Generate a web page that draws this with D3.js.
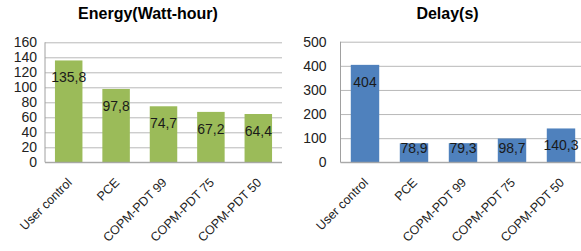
<!DOCTYPE html>
<html><head><meta charset="utf-8">
<script src="https://cdn.jsdelivr.net/npm/d3@7"></script>
<style>
html,body{margin:0;padding:0;background:#fff;}
svg{display:block;font-family:"Liberation Sans",Arial,sans-serif;}
</style></head>
<body>
<svg id="c" width="581" height="251"></svg>
<script>
const categories = ["User control", "PCE", "COPM-PDT 99", "COPM-PDT 75", "COPM-PDT 50"];
const energyValues = [135.8, 97.8, 74.7, 67.2, 64.4];
const energyLabels = ["135,8", "97,8", "74,7", "67,2", "64,4"];
const delayValues = [404, 78.9, 79.3, 98.7, 140.3];
const delayLabels = ["404", "78,9", "79,3", "98,7", "140,3"];
const energyTicks = [0, 20, 40, 60, 80, 100, 120, 140, 160];
const delayTicks = [0, 100, 200, 300, 400, 500];

const svg = d3.select("#c");

function panel(cfg) {
  const g = svg.append("g");
  const x = d3.scaleBand().domain(categories).range([cfg.x0, cfg.x1]).paddingInner(0.42).paddingOuter(0.21);
  const y = d3.scaleLinear().domain([0, cfg.max]).range([cfg.yb, cfg.yt]);
  const w = cfg.x1 - cfg.x0;

  g.append("text").attr("x", cfg.tx).attr("y", 19).attr("text-anchor", "middle")
    .attr("font-size", 16).attr("font-weight", "bold").attr("fill", "#000").text(cfg.title);

  const ya = g.append("g").attr("transform", `translate(${cfg.x0},0)`)
    .call(d3.axisLeft(y).tickValues(cfg.ticks).tickSizeInner(-w).tickSizeOuter(0).tickPadding(cfg.pad).tickFormat(d3.format("d")));
  ya.select(".domain").remove();
  ya.selectAll(".tick line").attr("stroke", "#b8b8b8").attr("stroke-width", 1);
  ya.selectAll(".tick text").attr("font-size", 14).attr("fill", "#222").attr("font-family", "Liberation Sans, Arial, sans-serif");

  g.selectAll("rect.bar").data(cfg.values).join("rect")
    .attr("class", "bar")
    .attr("x", (d, i) => x(categories[i]))
    .attr("width", x.bandwidth())
    .attr("y", d => y(d))
    .attr("height", d => y(0) - y(d))
    .attr("fill", cfg.color);

  g.append("line").attr("x1", cfg.x0).attr("x2", cfg.x0).attr("y1", cfg.yt).attr("y2", cfg.yb)
    .attr("stroke", "#a0a0a0");
  const xa = g.append("g").attr("transform", `translate(0,${cfg.yb})`)
    .call(d3.axisBottom(x).tickSize(0).tickPadding(0));
  xa.select(".domain").attr("stroke", "#a0a0a0").attr("d", `M${cfg.x0},0H${cfg.x1}`);
  xa.selectAll(".tick text")
    .attr("y", null).attr("dy", null)
    .attr("text-anchor", "end")
    .attr("transform", "translate(4,21) rotate(-45)")
    .attr("font-size", 12.5).attr("fill", "#222").attr("font-family", "Liberation Sans, Arial, sans-serif");

  g.selectAll("text.lbl").data(cfg.values).join("text")
    .attr("class", "lbl")
    .attr("x", (d, i) => x(categories[i]) + x.bandwidth() / 2)
    .attr("y", d => Math.min(y(d) + 17, y(0) - 14) + 5)
    .attr("text-anchor", "middle")
    .attr("font-size", 14).attr("fill", "#1a1a1a")
    .text((d, i) => cfg.labels[i]);
}

panel({x0: 45, x1: 282, yb: 162.3, yt: 42.3, max: 160, ticks: energyTicks, values: energyValues,
  labels: energyLabels, color: "#9bbb59", title: "Energy(Watt-hour)", tx: 148, pad: 8});
panel({x0: 340.5, x1: 585.5, yb: 162.3, yt: 41.7, max: 500, ticks: delayTicks, values: delayValues,
  labels: delayLabels, color: "#4f81bd", title: "Delay(s)", tx: 447.5, pad: 14});
</script>
</body></html>
